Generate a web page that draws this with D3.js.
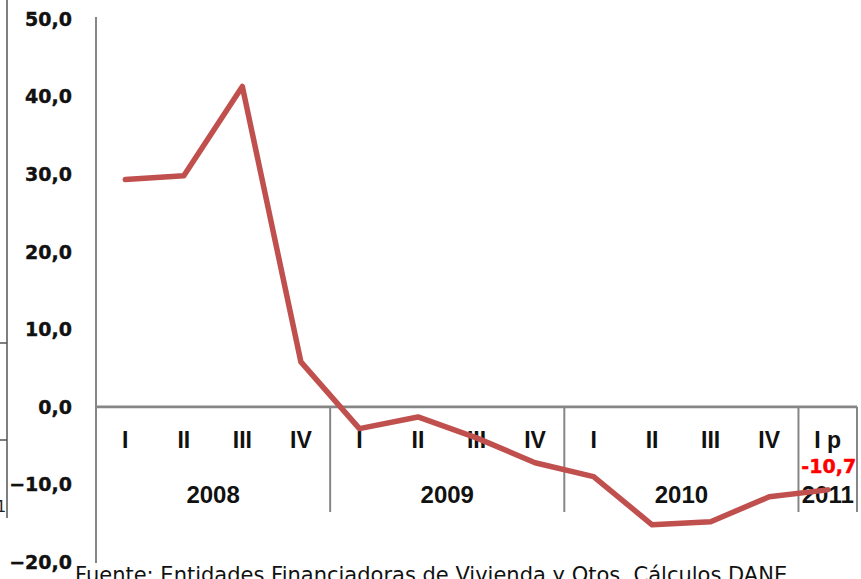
<!DOCTYPE html>
<html><head><meta charset="utf-8">
<script src="https://cdn.jsdelivr.net/npm/d3@7"></script>
<style>html,body{margin:0;padding:0;background:#fff;overflow:hidden}</style>
</head><body>
<svg id="c" width="861" height="579"></svg>
<script>
const quarters = ["I","II","III","IV","I","II","III","IV","I","II","III","IV","I p"];
const years = ["2008","2009","2010","2011"];
const yearSizes = [4,4,4,1];
const values = [29.3,29.8,41.3,5.8,-2.8,-1.3,-4.0,-7.2,-9.0,-15.2,-14.8,-11.6,-10.7];
const yTicks = [50,40,30,20,10,0,-10,-20];
const lastLabel = "-10,7";
const source = "Fuente: Entidades Financiadoras de Vivienda y Otos. Cálculos DANE";

const svg = d3.select("#c");
const x = d3.scaleBand().domain(d3.range(quarters.length)).range([96, 857]);
const y = d3.scaleLinear().domain([-20, 50]).range([562, 19]);
const fmt = v => d3.format(".1f")(v).replace(".", ",");

// stray lines at far left
svg.append("line").attr("x1",7).attr("x2",7).attr("y1",0).attr("y2",518).attr("stroke","#555").attr("stroke-width",1.5);
svg.append("line").attr("x1",0).attr("x2",7).attr("y1",343).attr("y2",343).attr("stroke","#555").attr("stroke-width",1.5);
svg.append("line").attr("x1",0).attr("x2",7).attr("y1",440).attr("y2",440).attr("stroke","#555").attr("stroke-width",1.5);
svg.append("text").attr("x",-4).attr("y",512).attr("font-family","DejaVu Sans").attr("font-size",16).attr("fill","#222").text("1");

// y axis line
svg.append("line").attr("x1",96).attr("x2",96).attr("y1",17).attr("y2",563).attr("stroke","#868686").attr("stroke-width",2);
// y tick labels
svg.append("g").selectAll("text").data(yTicks).join("text")
  .attr("x",72).attr("y",d=>y(d)).attr("dy","0.36em").attr("text-anchor","end")
  .attr("font-family","DejaVu Sans").attr("font-weight","bold").attr("font-size",19).attr("fill","#111")
  .attr("stroke","#111").attr("stroke-width",0.4)
  .text(fmt);

// zero axis
svg.append("line").attr("x1",96).attr("x2",857).attr("y1",y(0)).attr("y2",y(0)).attr("stroke","#868686").attr("stroke-width",2.6);

// year separators
let cum = 0;
const bounds = [0];
yearSizes.forEach(s => { cum += s; bounds.push(cum); });
svg.append("g").selectAll("line").data(bounds.slice(1)).join("line")
  .attr("x1",d=>x(0)+d*x.step()).attr("x2",d=>x(0)+d*x.step())
  .attr("y1",y(0)).attr("y2",512).attr("stroke","#868686").attr("stroke-width",2);

// quarter labels
svg.append("g").selectAll("text").data(quarters).join("text")
  .attr("x",(d,i)=>x(i)+x.bandwidth()/2).attr("y",448).attr("text-anchor","middle")
  .attr("font-family","Liberation Sans").attr("font-weight","bold").attr("font-size",23).attr("fill","#111")
  .text(d=>d);

// year labels
svg.append("g").selectAll("text").data(years).join("text")
  .attr("x",(d,i)=>x(0)+(bounds[i]+bounds[i+1])/2*x.step()).attr("y",503).attr("text-anchor","middle")
  .attr("font-family","Liberation Sans").attr("font-weight","bold").attr("font-size",24).attr("fill","#111")
  .text(d=>d);

// line
const line = d3.line().x((d,i)=>x(i)+x.bandwidth()/2).y(d=>y(d));
svg.append("path").datum(values).attr("d",line).attr("fill","none")
  .attr("stroke","#C0504D").attr("stroke-width",5.5).attr("stroke-linejoin","round").attr("stroke-linecap","round");

// last label
const li = values.length-1;
svg.append("text").attr("x",x(li)+x.bandwidth()/2+1).attr("y",y(values[li])-24).attr("dy","0.36em")
  .attr("text-anchor","middle").attr("font-family","DejaVu Sans").attr("font-weight","bold")
  .attr("font-size",19).attr("fill","#FF0000").attr("stroke","#FF0000").attr("stroke-width",0.4).text(lastLabel);

// source
svg.append("text").attr("x",75).attr("y",582).attr("font-family","DejaVu Sans").attr("font-size",21).attr("fill","#111").text(source);
</script>
</body></html>
